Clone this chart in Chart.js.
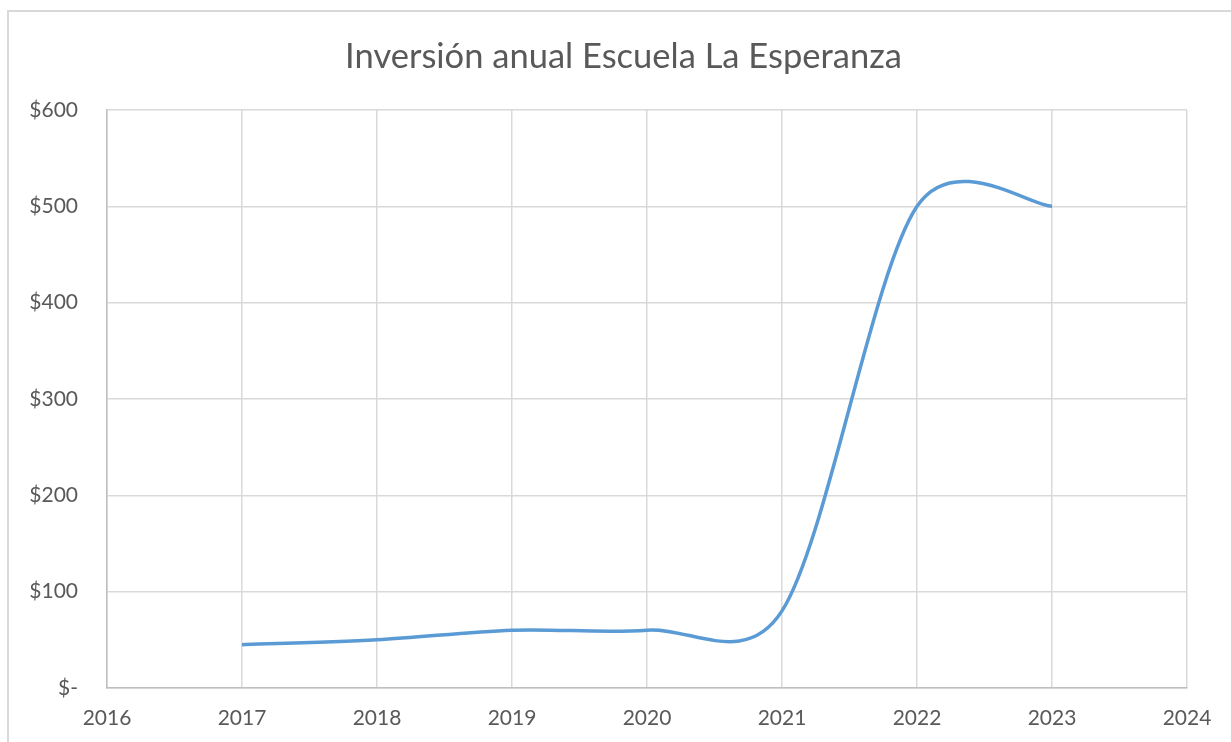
<!DOCTYPE html>
<html>
<head>
<meta charset="utf-8">
<script src="https://cdn.jsdelivr.net/npm/chart.js@4/dist/chart.umd.min.js"></script>
<style>
  html, body { margin: 0; padding: 0; background: #fff; overflow: hidden; }
  #wrap { position: relative; width: 1231px; height: 742px; }
  #frame { position: absolute; left: 7px; top: 10px; width: 1300px; height: 800px; border: 2px solid #d9d9d9; box-sizing: border-box; }
  canvas { position: absolute; left: 0; top: 0; }
</style>
</head>
<body>
<div id="wrap">
  <div id="frame"></div>
  <canvas id="c" width="1231" height="742"></canvas>
</div>
<script>
const years = [2017, 2018, 2019, 2020, 2021, 2022, 2023];
const inversion = [45, 50, 60, 60, 80, 500, 500];
const xTicks = [2016, 2017, 2018, 2019, 2020, 2021, 2022, 2023, 2024];
const yTicks = [0, 100, 200, 300, 400, 500, 600];
const titleText = 'Inversión anual Escuela La Esperanza';

const FONT = 'Lato, "Open Sans", sans-serif';
const TXT = '#595959';

// Office-style smoothing: tangent from neighbours, arm = min(chord/6, adjacent segment/2)
const officeSmooth = {
  id: 'officeSmooth',
  beforeDatasetDraw(chart, args) {
    const meta = args.meta;
    const line = meta.dataset;
    const pts = meta.data;
    if (line && line.updateControlPoints) line.updateControlPoints(chart.chartArea, 'x');
    const n = pts.length;
    for (let i = 0; i < n; i++) {
      const p = pts[i];
      const prev = pts[Math.max(0, i - 1)];
      const next = pts[Math.min(n - 1, i + 1)];
      const tx = next.x - prev.x, ty = next.y - prev.y;
      const L = Math.hypot(tx, ty) || 1;
      const ux = tx / L, uy = ty / L;
      const dPrev = Math.hypot(p.x - prev.x, p.y - prev.y);
      const dNext = Math.hypot(next.x - p.x, next.y - p.y);
      const aIn = Math.min(L / 6, dPrev / 2);
      const aOut = Math.min(L / 6, dNext / 2);
      p.cp1x = p.x - ux * aIn;
      p.cp1y = p.y - uy * aIn;
      p.cp2x = p.x + ux * aOut;
      p.cp2y = p.y + uy * aOut;
    }
    line._path = undefined;
  }
};

// centre the title over the whole chart frame rather than the padded layout box
const titleCentre = {
  id: 'titleCentre',
  afterLayout(chart) {
    const t = chart.titleBlock;
    if (t) { t.left = 16; t.right = chart.width; }
  }
};

new Chart(document.getElementById('c'), {
  type: 'line',
  data: {
    datasets: [{
      data: years.map((y, i) => ({ x: y, y: inversion[i] })),
      borderColor: '#5b9bd5',
      borderWidth: 3.5,
      pointRadius: 0,
      tension: 0.4,
      fill: false
    }]
  },
  plugins: [officeSmooth, titleCentre],
  options: {
    responsive: false,
    animation: false,
    layout: { padding: { left: 0, right: 44, top: 36, bottom: 0 } },
    plugins: {
      legend: { display: false },
      tooltip: { enabled: false },
      title: {
        display: true,
        text: titleText,
        color: TXT,
        font: { family: FONT, size: 34.5, weight: 'normal', lineHeight: 1.2 },
        padding: { top: 0, bottom: 32.6 }
      }
    },
    scales: {
      x: {
        type: 'linear',
        min: xTicks[0],
        max: xTicks[xTicks.length - 1],
        afterBuildTicks: s => { s.ticks = xTicks.map(v => ({ value: v })); },
        afterFit: s => { s.height = 54; },
        grid: { color: '#d9d9d9', lineWidth: 1.5, drawTicks: false },
        border: { color: '#bfbfbf', width: 1.5 },
        ticks: {
          color: TXT,
          padding: 18,
          font: { family: FONT, size: 21 },
          callback: v => String(v),
          maxRotation: 0
        }
      },
      y: {
        min: yTicks[0],
        max: yTicks[yTicks.length - 1],
        afterBuildTicks: s => { s.ticks = yTicks.map(v => ({ value: v })); },
        afterFit: s => { s.width = 107; },
        grid: { color: '#d9d9d9', lineWidth: 1.5, drawTicks: false },
        border: { color: '#bfbfbf', width: 1.5 },
        ticks: {
          color: TXT,
          padding: 29,
          font: { family: FONT, size: 21 },
          callback: v => v === 0 ? '$-' : '$' + v
        }
      }
    }
  }
});
</script>
</body>
</html>
